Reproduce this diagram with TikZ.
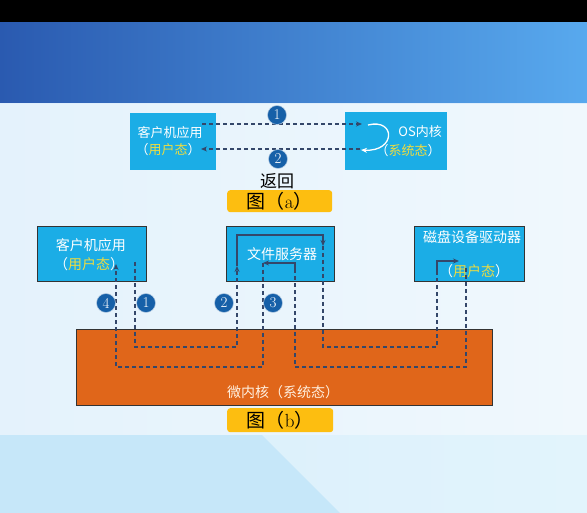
\documentclass[tikz,border=0pt]{standalone}
\usepackage{fontspec}
\newfontfamily\cjk{Noto Sans CJK SC}
\usetikzlibrary{arrows.meta}
\definecolor{boxcyan}{HTML}{1BADE6}
\definecolor{kernorange}{HTML}{E0661A}
\definecolor{labyellow}{HTML}{FDBE10}
\definecolor{numblue}{HTML}{1660A8}
\definecolor{dashc}{HTML}{34476A}
\definecolor{txtyellow}{HTML}{EEDC40}
\definecolor{bandL}{HTML}{2A5AB0}
\definecolor{bandR}{HTML}{58A9EE}
\definecolor{paleA}{HTML}{E4F2FC}
\definecolor{paleB}{HTML}{F0F8FD}
\definecolor{lowA}{HTML}{C6E7F9}
\definecolor{lowB}{HTML}{E2F4FC}
\tikzset{
  procbox/.style={draw=black!80, line width=0.9pt, fill=boxcyan, anchor=north west, inner sep=0pt},
  plainbox/.style={fill=boxcyan, anchor=north west, inner sep=0pt},
  boxtext/.style={text=white, font=\cjk\fontsize{13}{15}\selectfont, inner sep=0pt},
  flow/.style={draw=dashc, line width=1.1pt, dash pattern=on 4pt off 3pt},
  solidflow/.style={draw=dashc, line width=1.1pt},
  tip/.style={-{Stealth[length=6pt,width=5pt]}},
  numnode/.style={circle, fill=numblue, draw=white!70!numblue, line width=0.5pt, text=white, inner sep=0pt, minimum size=19pt, font=\fontsize{15}{15}\selectfont},
  labelbox/.style={fill=labyellow, rounded corners=3pt, anchor=north west, inner sep=0pt},
  labeltext/.style={text=black, font=\fontsize{19}{21}\selectfont, inner sep=0pt}
}
\begin{document}
\begin{tikzpicture}[x=1pt,y=-1pt]
\useasboundingbox (0,0) rectangle (587,513);
% background
\fill[paleA] (0,0) rectangle (587,513);
\shade[left color=paleA, right color=paleB] (0,103) rectangle (587,435);
\fill[lowA] (0,435) rectangle (587,513);
\shade[left color=lowA!60!white, right color=lowB] (262,435) -- (587,435) -- (587,513) -- (340,513) -- cycle;
\shade[left color=bandL, right color=bandR] (0,22) rectangle (587,103);
\fill[black] (0,0) rectangle (587,22);
\draw[white!80!bandR, line width=0.8pt] (0,103) -- (587,103);

% ---------- figure (a) ----------
\node[plainbox, minimum width=86pt, minimum height=57pt] (cliA) at (130,113) {};
\node[plainbox, minimum width=102pt, minimum height=58pt] (osA) at (345,112) {};
\node[boxtext] (cliAt1) at (170,133) {客户机应用};
\node[boxtext] (cliAt2) at (168,150) {（\textcolor{txtyellow}{用户态}）};
\node[boxtext, anchor=east] (osAt1) at (442,132) {OS内核};
\node[boxtext] (osAt2) at (408,151) {（\textcolor{txtyellow}{系统态}）};

\coordinate (a1s) at (202,124);
\coordinate (a1e) at (362,124);
\coordinate (a2s) at (360,149);
\coordinate (a2e) at (201,149);
\coordinate (cvs) at (368,125);
\coordinate (cve) at (361,150);
\draw[flow, tip] (a1s) -- (a1e);
\draw[flow, tip] (a2s) -- (a2e);
\draw[white, line width=1.3pt, tip] (cvs) .. controls (396,118) and (396,152) .. (cve);

\node[numnode] (na1) at (277,115) {1};
\node[numnode] (na2) at (278,159) {2};
\node[text=black, font=\cjk\fontsize{17}{19}\selectfont, inner sep=0pt] (back) at (277,181) {返回};
\node[labelbox, minimum width=105pt, minimum height=22pt] (labA) at (227,190) {};
\node[labeltext] (labAt) at (labA.center) {{\cjk 图（}a{\cjk ）}};

% ---------- figure (b) ----------
\node[procbox, minimum width=109pt, minimum height=55pt] (cliB) at (37,226) {};
\node[procbox, minimum width=108pt, minimum height=55pt] (fsB) at (226,226) {};
\node[procbox, minimum width=110pt, minimum height=55pt] (dkB) at (414,226) {};
\node[procbox, fill=kernorange, minimum width=416pt, minimum height=76pt] (kern) at (76,329) {};

\node[boxtext, font=\cjk\fontsize{14}{16}\selectfont] (cliBt1) at (91,245) {客户机应用};
\node[boxtext, font=\cjk\fontsize{14}{16}\selectfont] (cliBt2) at (89,264) {（\textcolor{txtyellow}{用户态}）};
\node[boxtext, font=\cjk\fontsize{14}{16}\selectfont] (fsBt) at (282,254) {文件服务器};
\node[boxtext, font=\cjk\fontsize{14}{16}\selectfont] (dkBt1) at (472,237) {磁盘设备驱动器};
\node[boxtext, font=\cjk\fontsize{14}{16}\selectfont] (dkBt2) at (474,271) {（\textcolor{txtyellow}{用户态}）};
\node[boxtext, text=white!88!orange, font=\cjk\fontsize{14}{16}\selectfont] (kernt) at (283,392) {微内核（系统态）};

% path 1
\coordinate (p1s) at (135,262);
\coordinate (p1a) at (135,347);
\coordinate (p1b) at (237,347);
\coordinate (p1e) at (237,266);
\draw[flow, tip] (p1s) -- (p1a) -- (p1b) -- (p1e);
% inside file server
\coordinate (fsa) at (237,235);
\coordinate (fsb) at (323,235);
\coordinate (fsc) at (323,246);
\draw[solidflow, tip] (p1e) -- (fsa) -- (fsb) -- (fsc);
% path 2
\coordinate (p2a) at (323,347);
\coordinate (p2b) at (437,347);
\coordinate (p2c) at (437,272);
\coordinate (p2d) at (437,261);
\coordinate (p2e) at (459,261);
\draw[flow] (fsc) -- (p2a) -- (p2b) -- (p2c);
\draw[solidflow, tip] (p2c) -- (p2d) -- (p2e);
% path 3
\coordinate (p3s) at (466,268);
\coordinate (p3a) at (466,367);
\coordinate (p3b) at (295,367);
\coordinate (p3c) at (295,272);
\coordinate (p3d) at (295,263);
\coordinate (p3e) at (263,263);
\draw[flow] (p3s) -- (p3a) -- (p3b) -- (p3c);
\draw[solidflow, tip] (p3c) -- (p3d) -- (p3e);
% path 4
\coordinate (p4a) at (263,367);
\coordinate (p4b) at (116,367);
\coordinate (p4e) at (116,264);
\draw[flow, tip] (p3e) -- (p4a) -- (p4b) -- (p4e);

\node[numnode] (nb4) at (106,303) {4};
\node[numnode] (nb1) at (146,303) {1};
\node[numnode] (nb2) at (224,303) {2};
\node[numnode] (nb3) at (273,303) {3};

\node[labelbox, minimum width=106pt, minimum height=24pt] (labB) at (227,408) {};
\node[labeltext] (labBt) at (labB.center) {{\cjk 图（}b{\cjk ）}};
\end{tikzpicture}
\end{document}
